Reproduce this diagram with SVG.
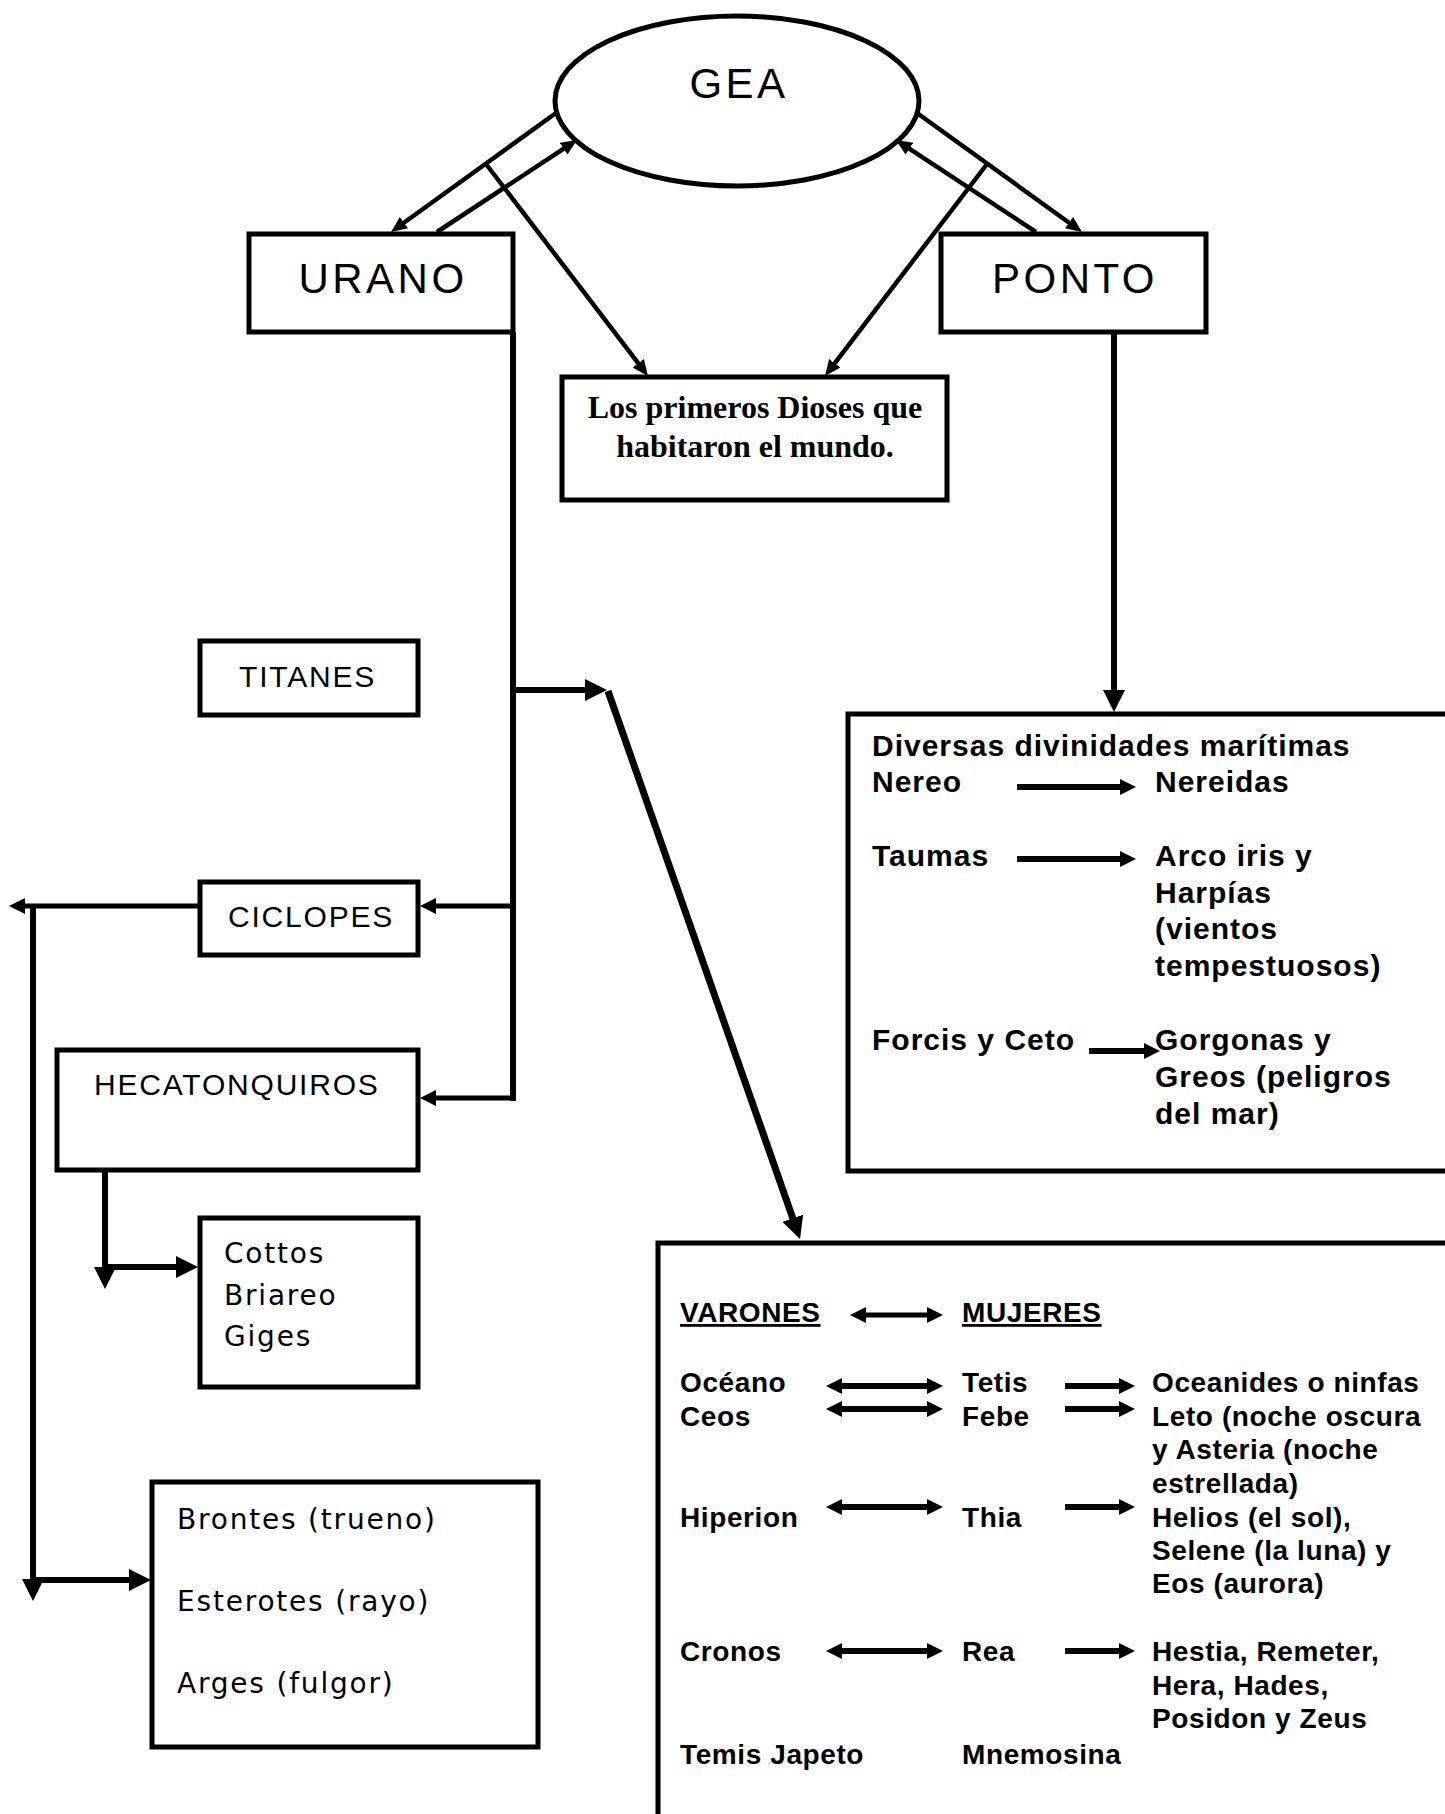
<svg xmlns="http://www.w3.org/2000/svg" width="1445" height="1814" viewBox="0 0 1445 1814">
<style>
.box{fill:#fff;stroke:#000;stroke-width:5}
.ln{fill:none;stroke:#000;stroke-linecap:butt}
.t4{stroke-width:4.5}
.t5{stroke-width:5}
.t6{stroke-width:6}
.t7{stroke-width:7}
.big{font-family:"Liberation Sans",Arial,sans-serif;font-size:42px;letter-spacing:3.5px;text-anchor:middle;fill:#000}
.cap{font-family:"Liberation Sans",Arial,sans-serif;font-size:30px;letter-spacing:1.8px;fill:#000}
.lst{font-family:"DejaVu Sans",Verdana,sans-serif;font-size:28px;letter-spacing:1.8px;fill:#000}
.ser{font-family:"Liberation Serif","Times New Roman",serif;font-size:32px;font-weight:bold;text-anchor:middle;fill:#000}
.bd{font-family:"Liberation Sans",Arial,sans-serif;font-size:30px;font-weight:bold;letter-spacing:1px;fill:#000}
.bv{font-family:"Liberation Sans",Arial,sans-serif;font-size:28px;font-weight:bold;letter-spacing:0.6px;fill:#000}
</style>
<defs>
<marker id="ms" markerUnits="userSpaceOnUse" markerWidth="16" markerHeight="14" refX="1" refY="7" orient="auto"><path d="M0,0 L16,7 L0,14 z" fill="#000"/></marker>
<marker id="mm" markerUnits="userSpaceOnUse" markerWidth="16" markerHeight="16" refX="1" refY="8" orient="auto-start-reverse"><path d="M0,0 L16,8 L0,16 z" fill="#000"/></marker>
<marker id="ml" markerUnits="userSpaceOnUse" markerWidth="22" markerHeight="22" refX="1" refY="11" orient="auto"><path d="M0,0 L22,11 L0,22 z" fill="#000"/></marker>
</defs>

<g id="gea">
<ellipse cx="737" cy="101" rx="182" ry="85" fill="#fff" stroke="#000" stroke-width="5"/>
<text class="big" x="739" y="98">GEA</text>
</g>

<g id="urano">
<rect class="box" x="249" y="234" width="264" height="98"/>
<text class="big" x="383" y="293">URANO</text>
</g>

<g id="ponto">
<rect class="box" x="941" y="234" width="265" height="98"/>
<text class="big" x="1075" y="293">PONTO</text>
</g>

<g id="primeros">
<rect class="box" x="562" y="377" width="385" height="123"/>
<text class="ser" x="755" y="418">Los primeros Dioses que</text>
<text class="ser" x="755" y="457">habitaron el mundo.</text>
</g>

<g id="titanes">
<rect class="box" x="200" y="641" width="218" height="74"/>
<text class="cap" x="239" y="687">TITANES</text>
</g>

<g id="ciclopes">
<rect class="box" x="200" y="882" width="218" height="73"/>
<text class="cap" x="228" y="927">CICLOPES</text>
</g>

<g id="hecatonquiros">
<rect class="box" x="57" y="1050" width="361" height="120"/>
<text class="cap" x="94" y="1095">HECATONQUIROS</text>
</g>

<g id="cottos">
<rect class="box" x="200" y="1218" width="218" height="169"/>
<text class="lst" x="224" y="1263">Cottos</text>
<text class="lst" x="224" y="1305">Briareo</text>
<text class="lst" x="224" y="1346">Giges</text>
</g>

<g id="brontes">
<rect class="box" x="152" y="1482" width="386" height="265"/>
<text class="lst" x="177" y="1529">Brontes (trueno)</text>
<text class="lst" x="177" y="1611">Esterotes (rayo)</text>
<text class="lst" x="177" y="1693">Arges (fulgor)</text>
</g>

<g id="diversas">
<rect class="box" x="848" y="714" width="620" height="457"/>
<text class="bd" x="872" y="756">Diversas divinidades marítimas</text>
<text class="bd" x="872" y="792">Nereo</text>
<text class="bd" x="1155" y="792">Nereidas</text>
<text class="bd" x="872" y="866">Taumas</text>
<text class="bd" x="1155" y="866">Arco iris y</text>
<text class="bd" x="1155" y="903">Harpías</text>
<text class="bd" x="1155" y="939">(vientos</text>
<text class="bd" x="1155" y="976">tempestuosos)</text>
<text class="bd" x="872" y="1050">Forcis y Ceto</text>
<text class="bd" x="1155" y="1050">Gorgonas y</text>
<text class="bd" x="1155" y="1087">Greos (peligros</text>
<text class="bd" x="1155" y="1124">del mar)</text>
</g>

<g id="titanes-lista">
<rect class="box" x="658" y="1243" width="810" height="600"/>
<text class="bv" x="680" y="1322" text-decoration="underline">VARONES</text>
<text class="bv" x="962" y="1322" text-decoration="underline">MUJERES</text>
<text class="bv" x="680" y="1392">Océano</text>
<text class="bv" x="962" y="1392">Tetis</text>
<text class="bv" x="1152" y="1392">Oceanides o ninfas</text>
<text class="bv" x="680" y="1426">Ceos</text>
<text class="bv" x="962" y="1426">Febe</text>
<text class="bv" x="1152" y="1426">Leto (noche oscura</text>
<text class="bv" x="1152" y="1459">y Asteria (noche</text>
<text class="bv" x="1152" y="1493">estrellada)</text>
<text class="bv" x="680" y="1527">Hiperion</text>
<text class="bv" x="962" y="1527">Thia</text>
<text class="bv" x="1152" y="1527">Helios (el sol),</text>
<text class="bv" x="1152" y="1560">Selene (la luna) y</text>
<text class="bv" x="1152" y="1593">Eos (aurora)</text>
<text class="bv" x="680" y="1661">Cronos</text>
<text class="bv" x="962" y="1661">Rea</text>
<text class="bv" x="1152" y="1661">Hestia, Remeter,</text>
<text class="bv" x="1152" y="1695">Hera, Hades,</text>
<text class="bv" x="1152" y="1728">Posidon y Zeus</text>
<text class="bv" x="680" y="1764">Temis Japeto</text>
<text class="bv" x="962" y="1764">Mnemosina</text>
</g>

<g id="connectors">
<line class="ln t4" x1="556" y1="113" x2="403.2" y2="223.2" marker-end="url(#ms)"/>
<line class="ln t4" x1="437" y1="232" x2="564.5" y2="148.2" marker-end="url(#ms)"/>
<line class="ln t4" x1="486" y1="164" x2="638.9" y2="364.1" marker-end="url(#ms)"/>
<line class="ln t4" x1="917" y1="113" x2="1069.8" y2="223.2" marker-end="url(#ms)"/>
<line class="ln t4" x1="1036" y1="232" x2="908.5" y2="148.2" marker-end="url(#ms)"/>
<line class="ln t4" x1="987" y1="164" x2="834.1" y2="364.1" marker-end="url(#ms)"/>
<line class="ln t6" x1="513" y1="332" x2="513" y2="1101"/>
<line class="ln t6" x1="513" y1="690" x2="586" y2="690" marker-end="url(#ml)"/>
<line class="ln t7" x1="608" y1="691" x2="793.1" y2="1219.2" marker-end="url(#ml)"/>
<line class="ln t5" x1="513" y1="906" x2="435" y2="906" marker-end="url(#mm)"/>
<line class="ln t5" x1="515" y1="1098" x2="435" y2="1098" marker-end="url(#mm)"/>
<line class="ln t5" x1="200" y1="906" x2="24" y2="906" marker-end="url(#mm)"/>
<line class="ln t6" x1="33" y1="904" x2="33" y2="1580" marker-end="url(#ml)"/>
<line class="ln t6" x1="30" y1="1580" x2="130" y2="1580" marker-end="url(#ml)"/>
<line class="ln t6" x1="105" y1="1170" x2="105" y2="1268" marker-end="url(#ml)"/>
<line class="ln t6" x1="102" y1="1267" x2="177" y2="1267" marker-end="url(#ml)"/>
<line class="ln t6" x1="1114" y1="332" x2="1114" y2="691" marker-end="url(#ml)"/>
<line class="ln t6" x1="1017" y1="787" x2="1121" y2="787" marker-end="url(#mm)"/>
<line class="ln t6" x1="1017" y1="859" x2="1121" y2="859" marker-end="url(#mm)"/>
<line class="ln t6" x1="1089" y1="1051" x2="1145" y2="1051" marker-end="url(#mm)"/>
<line class="ln t5" x1="865" y1="1315" x2="928" y2="1315" marker-start="url(#mm)" marker-end="url(#mm)"/>
<line class="ln t6" x1="841" y1="1386" x2="928" y2="1386" marker-start="url(#mm)" marker-end="url(#mm)"/>
<line class="ln t6" x1="841" y1="1409" x2="928" y2="1409" marker-start="url(#mm)" marker-end="url(#mm)"/>
<line class="ln t6" x1="841" y1="1507" x2="928" y2="1507" marker-start="url(#mm)" marker-end="url(#mm)"/>
<line class="ln t6" x1="841" y1="1651" x2="928" y2="1651" marker-start="url(#mm)" marker-end="url(#mm)"/>
<line class="ln t6" x1="1065" y1="1386" x2="1120" y2="1386" marker-end="url(#mm)"/>
<line class="ln t6" x1="1065" y1="1409" x2="1120" y2="1409" marker-end="url(#mm)"/>
<line class="ln t6" x1="1065" y1="1507" x2="1120" y2="1507" marker-end="url(#mm)"/>
<line class="ln t6" x1="1065" y1="1651" x2="1120" y2="1651" marker-end="url(#mm)"/>
</g>
</svg>
